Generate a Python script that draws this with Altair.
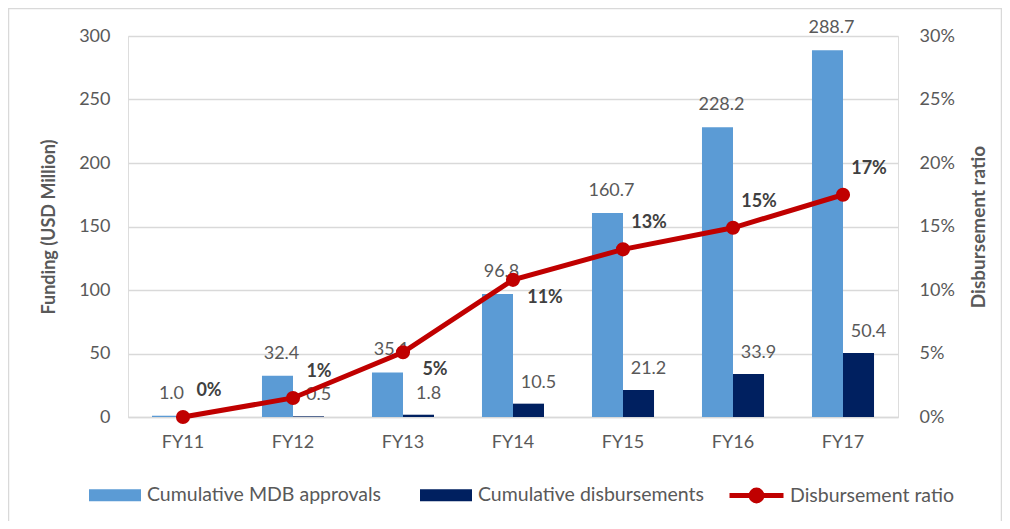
import altair as alt
import pandas as pd

years = ["FY11", "FY12", "FY13", "FY14", "FY15", "FY16", "FY17"]
approvals = [1.0, 32.4, 35.1, 96.8, 160.7, 228.2, 288.7]
disbursements = [0.0, 0.5, 1.8, 10.5, 21.2, 33.9, 50.4]
ratio_pct = [0.0, 1.5, 5.1, 10.8, 13.2, 14.9, 17.5]
ratio_labels = ["0%", "1%", "5%", "11%", "13%", "15%", "17%"]
bar_series = ["Cumulative MDB approvals", "Cumulative disbursements"]
bar_colors = ["#5B9BD5", "#002060"]
line_series = ["Disbursement ratio"]
line_colors = ["#C00000"]
left_ticks = [0, 50, 100, 150, 200, 250, 300]
right_ticks = [0, 5, 10, 15, 20, 25, 30]

FONT = "Lato"
GREY = "#595959"

rows = []
for y, a, d in zip(years, approvals, disbursements):
    rows.append({"year": y, "series": bar_series[0], "value": a, "label": f"{a:.1f}"})
    rows.append({"year": y, "series": bar_series[1], "value": d, "label": f"{d:.1f}" if d > 0 else ""})
bars_df = pd.DataFrame(rows)

line_df = pd.DataFrame({"year": years, "ratio": ratio_pct, "label": ratio_labels,
                        "series": line_series[0]})

xscale = alt.Scale(domain=years, paddingInner=0.436, paddingOuter=0.218)

bar_legend = alt.Legend(
    title=None, orient="none", legendX=-39, legendY=433, direction="horizontal",
    columns=2, symbolType="M-1,-0.23H1V0.23H-1Z", symbolSize=2704, symbolStrokeWidth=0,
    labelFontSize=19.5, labelColor=GREY, labelFont=FONT, columnPadding=38, labelOffset=6,
    labelLimit=400,
)
line_legend = alt.Legend(
    title=None, orient="none", legendX=599, legendY=430, direction="horizontal",
    symbolType="M-1,0H1M-0.2,0a0.2,0.2 0 1,0 0.4,0a0.2,0.2 0 1,0 -0.4,0",
    symbolSize=2916, symbolStrokeWidth=5, symbolFillColor="#C00000",
    labelFontSize=19.5, labelColor=GREY, labelFont=FONT, labelOffset=4, labelLimit=400,
)

x_enc = alt.X("year:N", scale=xscale, title=None,
              axis=alt.Axis(labelAngle=0, ticks=False, domainColor="#D9D9D9", domainWidth=1.5,
                            labelPadding=16, labelFontSize=18, labelColor=GREY, labelFont=FONT))
y_left = alt.Y("value:Q", scale=alt.Scale(domain=[0, 300], nice=False),
               axis=alt.Axis(values=left_ticks, title="Funding (USD Million)", ticks=False,
                             domain=False, gridColor="#D9D9D9", gridWidth=1.5,
                             labelPadding=18, labelFontSize=18, labelColor=GREY, labelFont=FONT,
                             titleFontSize=18, titleFont=FONT, titleColor=GREY, titlePadding=20,
                             titleFontWeight="bold"))
xoff = alt.XOffset("series:N", scale=alt.Scale(domain=bar_series, paddingInner=0, paddingOuter=0))

bars = alt.Chart(bars_df).mark_bar().encode(
    x=x_enc, xOffset=xoff, y=y_left,
    color=alt.Color("series:N", scale=alt.Scale(domain=bar_series, range=bar_colors), legend=bar_legend),
)
light_text = alt.Chart(bars_df).transform_filter(
    alt.datum.series == bar_series[0]
).mark_text(dx=4, dy=-22, baseline="middle", font=FONT, fontSize=18, color=GREY
).encode(x=x_enc, xOffset=xoff, y=y_left, text="label:N")
dark_text = alt.Chart(bars_df).transform_filter(
    alt.datum.series == bar_series[1]
).mark_text(dx=10, dy=-21, baseline="middle", font=FONT, fontSize=18, color=GREY
).encode(x=x_enc, xOffset=xoff, y=y_left, text="label:N")

# chart-area border (decoration)
border = alt.Chart(pd.DataFrame({"k": [0]})).mark_rect(
    fill=None, stroke="#D9D9D9", strokeWidth=1.5
).encode(x=alt.value(-119.5), x2=alt.value(873.5), y=alt.value(-27.5), y2=alt.value(560))

left_layer = alt.layer(border, bars, light_text, dark_text)

x_line = alt.X("year:N", scale=xscale, bandPosition=0.5, title=None)
y_right = alt.Y("ratio:Q", scale=alt.Scale(domain=[0, 30], nice=False),
                axis=alt.Axis(orient="right", values=right_ticks, labelExpr="datum.value + '%'",
                              title="Disbursement ratio", ticks=False, domain=False, grid=False,
                              labelPadding=21, labelFontSize=18, labelColor=GREY, labelFont=FONT,
                              titleFontSize=19, titleFont=FONT, titleColor=GREY, titlePadding=34,
                              titleFontWeight="bold", titleAngle=270))

line = alt.Chart(line_df).mark_line(strokeWidth=5).encode(
    x=x_line, y=y_right,
    stroke=alt.Stroke("series:N", scale=alt.Scale(domain=line_series, range=line_colors), legend=line_legend))
pts = alt.Chart(line_df).mark_circle(size=200, opacity=1, color=line_colors[0]).encode(
    x=x_line, y=y_right)
above = alt.Chart(line_df).transform_filter(
    "datum.year != 'FY13' && datum.year != 'FY14'"
).mark_text(dx=26, dy=-26, font=FONT, fontSize=18, fontWeight="bold", color="#404040").encode(
    x=x_line, y=y_right, text="label:N")
below = alt.Chart(line_df).transform_filter(
    "datum.year == 'FY13' || datum.year == 'FY14'"
).mark_text(dx=32, dy=18, font=FONT, fontSize=18, fontWeight="bold", color="#404040").encode(
    x=x_line, y=y_right, text="label:N")

right_layer = alt.layer(line, pts, above, below)

chart = alt.layer(left_layer, right_layer).resolve_scale(y="independent").properties(
    width=770, height=381,
    autosize=alt.AutoSizeParams(type="none"),
    padding={"left": 120, "top": 28, "right": 104, "bottom": 104},
).configure_view(stroke=None).configure(font=FONT, background="white")

chart.save("out.html", embed_options={"renderer": "svg", "actions": False})
